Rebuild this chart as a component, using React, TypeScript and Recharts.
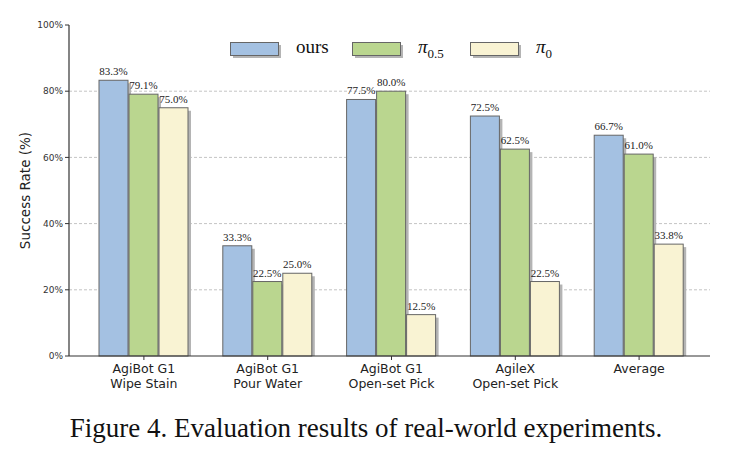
import React from 'react';
import { BarChart, Bar, XAxis, YAxis, CartesianGrid, LabelList } from 'recharts';

const categories = [
  ['AgiBot G1', 'Wipe Stain'],
  ['AgiBot G1', 'Pour Water'],
  ['AgiBot G1', 'Open-set Pick'],
  ['AgileX', 'Open-set Pick'],
  ['Average'],
];
const ours = [83.3, 33.3, 77.5, 72.5, 66.7];
const pi05 = [79.1, 22.5, 80.0, 62.5, 61.0];
const pi0 = [75.0, 25.0, 12.5, 22.5, 33.8];
const yTicks = [0, 20, 40, 60, 80, 100];

const COLORS = {
  ours: '#a4c1e2',
  pi05: '#bad68f',
  pi0: '#f9f3d3',
  edge: '#666666',
  shadow: '#b4b4b4',
};

const SANS = 'DejaVu Sans, sans-serif';
const SERIF = '"Liberation Serif", "Times New Roman", serif';

const data = categories.map((c, i) => ({
  key: i,
  ours: ours[i],
  pi05: pi05[i],
  pi0: pi0[i],
}));

function ShadowBar(props: any) {
  const { x, y, width, height, fill } = props;
  if (height <= 0) return null;
  return (
    <g>
      <rect x={x + 3} y={y + 3} width={width} height={height - 3} fill={COLORS.shadow} />
      <rect x={x} y={y} width={width} height={height} fill={fill} stroke={COLORS.edge} strokeWidth={1} />
    </g>
  );
}

function CategoryTick(props: any) {
  const { x, y, payload } = props;
  const lines = categories[payload.value] || [];
  return (
    <g>
      <line x1={x} x2={x} y1={y - 8} y2={y - 4} stroke="#333" />
      {lines.map((l, i) => (
        <text key={i} x={x} y={y + 9 + i * 14.5} textAnchor="middle" fontFamily={SANS} fontSize={12.5} fill="#222">
          {l}
        </text>
      ))}
    </g>
  );
}

function ValueLabel(props: any) {
  const { x, y, width, value } = props;
  return (
    <text x={x + width / 2} y={y - 5} textAnchor="middle" fontFamily={SERIF} fontSize={11} fill="#222">
      {`${Number(value).toFixed(1)}%`}
    </text>
  );
}

function LegendItem({ color, left, label }: { color: string; left: number; label: React.ReactNode }) {
  return (
    <>
      <div style={{ position: 'absolute', left: left + 3, top: 45, width: 48, height: 13, background: COLORS.shadow }} />
      <div style={{ position: 'absolute', left, top: 42, width: 47, height: 12, background: color, border: `1px solid ${COLORS.edge}` }} />
      <div style={{ position: 'absolute', left: left + 66, top: 36, fontFamily: SERIF, fontSize: 19, color: '#111', lineHeight: '22px', whiteSpace: 'nowrap' }}>
        {label}
      </div>
    </>
  );
}

export default function App() {
  return (
    <div style={{ position: 'absolute', left: 0, top: 0, width: 732, height: 458, background: '#fff' }}>
      <BarChart
        width={732}
        height={400}
        data={data}
        margin={{ top: 25, right: 22, left: 9, bottom: 4 }}
        barSize={29}
        barGap={1}
      >
        <CartesianGrid horizontalValues={[20, 40, 60, 80]} vertical={false} stroke="#c4c4c4" strokeDasharray="3 2" />
        <XAxis
          dataKey="key"
          height={40}
          padding={{ left: 13, right: 9 }}
          tickLine={false}
          axisLine={{ stroke: '#333', strokeWidth: 1.2 }}
          tick={<CategoryTick />}
          interval={0}
        />
        <YAxis
          width={60}
          domain={[0, 100]}
          ticks={yTicks}
          tickFormatter={(v: number) => `${v}%`}
          tick={{ fontFamily: SANS, fontSize: 9, fill: '#333' }}
          tickLine={{ stroke: '#333' }}
          tickSize={4}
          axisLine={{ stroke: '#333', strokeWidth: 1.2 }}
          label={{ value: 'Success Rate (%)', angle: -90, position: 'insideLeft', dx: 11, style: { fontFamily: SANS, fontSize: 13.5, fill: '#222', textAnchor: 'middle' } }}
        />
        <Bar dataKey="ours" fill={COLORS.ours} shape={<ShadowBar />} isAnimationActive={false}>
          <LabelList dataKey="ours" content={<ValueLabel />} />
        </Bar>
        <Bar dataKey="pi05" fill={COLORS.pi05} shape={<ShadowBar />} isAnimationActive={false}>
          <LabelList dataKey="pi05" content={<ValueLabel />} />
        </Bar>
        <Bar dataKey="pi0" fill={COLORS.pi0} shape={<ShadowBar />} isAnimationActive={false}>
          <LabelList dataKey="pi0" content={<ValueLabel />} />
        </Bar>
      </BarChart>
      <LegendItem color={COLORS.ours} left={230} label="ours" />
      <LegendItem color={COLORS.pi05} left={352} label={<i>π<sub style={{ fontStyle: 'normal', fontSize: 13 }}>0.5</sub></i>} />
      <LegendItem color={COLORS.pi0} left={470} label={<i>π<sub style={{ fontStyle: 'normal', fontSize: 13 }}>0</sub></i>} />
      <div style={{ position: 'absolute', left: 0, width: 732, top: 413, textAlign: 'center', fontFamily: SERIF, fontSize: 27, color: '#111', whiteSpace: 'nowrap' }}>
        Figure 4. Evaluation results of real-world experiments.
      </div>
    </div>
  );
}
